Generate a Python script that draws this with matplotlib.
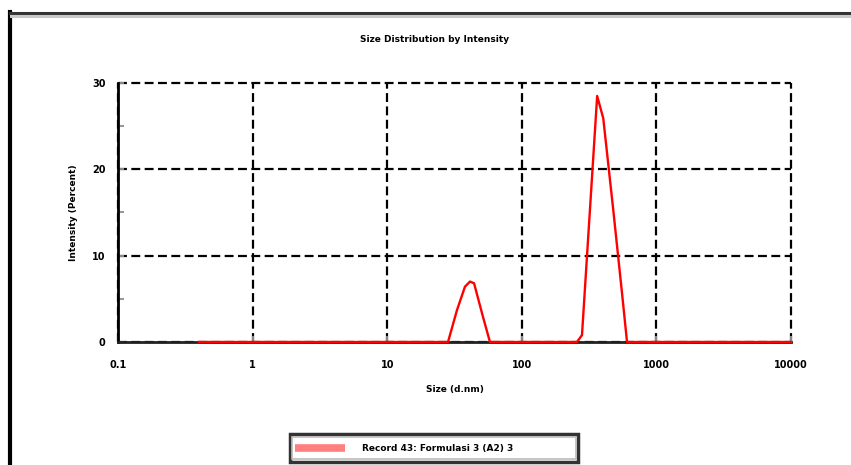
import matplotlib
matplotlib.use("Agg")
import matplotlib.pyplot as plt
from matplotlib.lines import Line2D
from matplotlib.patches import Rectangle

# Data
sizes = [0.4, 28.3, 33.0, 37.8, 41.2, 44.2, 51.5, 58.0,
         257, 280, 363, 403, 478, 555, 605, 10000]
intensity = [0, 0, 3.7, 6.4, 7.0, 6.8, 2.9, 0,
             0, 0.8, 28.5, 25.9, 15.3, 5.7, 0, 0]
xticks = [0.1, 1, 10, 100, 1000, 10000]
xtick_labels = ["0.1", "1", "10", "100", "1000", "10000"]
yticks = [0, 10, 20, 30]
title = "Size Distribution by Intensity"
xlabel = "Size (d.nm)"
ylabel = "Intensity (Percent)"
series_name = "Record 43: Formulasi 3 (A2) 3"

fig = plt.figure(figsize=(8.51, 4.65), dpi=100)
fig.patch.set_facecolor("white")

# outer frame
fig.add_artist(Line2D([10/851, 10/851], [0, 1-12/465], transform=fig.transFigure,
                      color="black", lw=3))
fig.add_artist(Line2D([10/851, 1], [1-13/465, 1-13/465], transform=fig.transFigure,
                      color="#333333", lw=2.2))
fig.add_artist(Line2D([11/851, 1], [1-16/465, 1-16/465], transform=fig.transFigure,
                      color="#c8c8c8", lw=2.2))

ax = fig.add_axes([118/851, 1-342/465, (791-118)/851, (342-83)/465])
ax.plot(sizes, intensity, color="#ff0000", lw=1.7, zorder=5, clip_on=False,
        label=series_name)
ax.set_xscale("log")
ax.set_xlim(0.1, 10000)
ax.set_ylim(0, 30)
ax.set_xticks(xticks)
ax.set_xticklabels(xtick_labels)
ax.set_yticks(yticks)
ax.set_yticks([5, 15, 25], minor=True)
ax.xaxis.set_minor_locator(matplotlib.ticker.NullLocator())
ax.grid(True, which="major", color="black", linestyle=(0, (4, 2)), lw=1.6)
for gl in ax.get_xgridlines() + ax.get_ygridlines():
    gl.set_clip_on(False)
for s in ["top", "right"]:
    ax.spines[s].set_visible(False)
ax.spines["left"].set_linewidth(2)
ax.spines["bottom"].set_linewidth(2)
ax.spines["bottom"].set_color("#222222")
ax.spines["left"].set_zorder(4)
ax.spines["bottom"].set_zorder(4)
ax.tick_params(axis="both", which="major", direction="in", length=4, width=1.5,
               color="#888888", labelsize=7)
ax.tick_params(axis="x", which="major", pad=13)
ax.tick_params(axis="y", which="major", pad=9)
ax.tick_params(axis="y", which="minor", direction="in", length=4, width=1.5, color="#999999")
for lab in ax.get_xticklabels() + ax.get_yticklabels():
    lab.set_fontweight("bold")

ax.set_xlabel(xlabel, fontsize=6.5, fontweight="bold", labelpad=11, x=0.5)
ax.set_ylabel(ylabel, fontsize=6.5, fontweight="bold", labelpad=10)
fig.text(435/851, 1-40/465, title, fontsize=6.5, fontweight="bold", ha="center", va="center")

# legend box
lx0, lx1, ly0, ly1 = 290/851, 578/851, 1-462/465, 1-434/465
fig.add_artist(Rectangle((lx0, ly0), lx1-lx0, ly1-ly0, transform=fig.transFigure,
                         facecolor="white", edgecolor="#333333", lw=2.5))
fig.add_artist(Rectangle((lx0+2/851, ly0+3/465), lx1-lx0-4/851, ly1-ly0-6/465,
                         transform=fig.transFigure, facecolor="white",
                         edgecolor="#bbbbbb", lw=1.2))
fig.add_artist(Line2D([295/851, 345/851], [1-448/465, 1-448/465], transform=fig.transFigure,
                      color="#ff7f7f", lw=5.5, solid_capstyle="butt"))
fig.text(362/851, 1-448/465, series_name, fontsize=6.5, fontweight="bold",
         va="center", ha="left")

fig.savefig("out.png", dpi=100)
